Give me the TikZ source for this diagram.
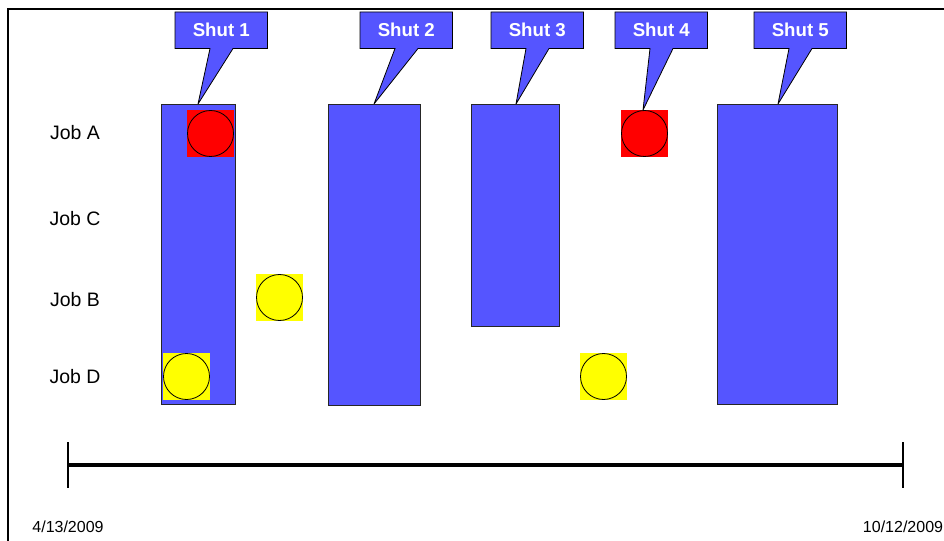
\documentclass[tikz,border=0pt]{standalone}
\usepackage{fontspec}
\setmainfont{Liberation Sans}
\usetikzlibrary{backgrounds,calc}
\definecolor{barblue}{RGB}{85,85,255}
\definecolor{dotred}{RGB}{255,0,0}
\definecolor{dotyellow}{RGB}{255,255,0}

\tikzset{
  bar/.style={fill=barblue, draw=black!85, line width=0.6pt},
  shuttag/.style={anchor=north west, minimum width=69pt, minimum height=27pt,
    inner sep=0pt, text=white, font=\bfseries\fontsize{14}{16}\selectfont},
  tagshape/.style={fill=barblue, draw=black, line width=0.6pt, line join=miter},
  joblabel/.style={font=\fontsize{14.6}{17}\selectfont, inner sep=0pt},
  datelabel/.style={font=\fontsize{12}{14}\selectfont, inner sep=0pt},
  dotsq/.style={minimum size=35.25pt, inner sep=0pt, draw=none},
  dotring/.style={draw=black, line width=0.6pt},
  frame/.style={draw=black, line width=1.2pt},
  axis/.style={line width=2.6pt},
  tick/.style={line width=0.9pt}
}

% a coloured square with a ring of the same colour on top
\newcommand\jobdot[3]{%
  \node[dotsq, fill=#2] (#1) at #3 {};
  \draw[dotring, fill=#2] (#1) circle[radius=17.25pt];
}

% callout: label box with a pointer running down to a tip coordinate
\newcommand\shutcallout[4]{%
  \node[shuttag] (#1) at #3 {#2};
  \begin{pgfonlayer}{background}
    \path[tagshape] (#1.north west) -- (#1.north east) -- (#1.south east)
      -- ([xshift=43.5pt]#1.south west) -- (#4)
      -- ([xshift=26.25pt]#1.south west) -- (#1.south west) -- cycle;
  \end{pgfonlayer}
}

\begin{document}
\begin{tikzpicture}[x=0.75pt,y=-0.75pt]
\useasboundingbox (0,0) rectangle (944,541);

% outer frame (top and left edges)
\draw[frame] (8,541) -- (8,9) -- (944,9);

% shutdown bars
\draw[bar] (161,104) rectangle (235,404);
\draw[bar] (328,104) rectangle (420,405);
\draw[bar] (471,104) rectangle (559,326);
\draw[bar] (717,104) rectangle (837,404);

% pointer tips
\coordinate (p1) at (198,104);
\coordinate (p2) at (374,104);
\coordinate (p3) at (516,104);
\coordinate (p4) at (643,110);
\coordinate (p5) at (778,104);

% job markers
\jobdot{a1}{dotred}{(210.5,133.5)}
\jobdot{a4}{dotred}{(644.5,133.5)}
\jobdot{b1}{dotyellow}{(279.5,297.5)}
\jobdot{d1}{dotyellow}{(186.5,376.5)}
\jobdot{d4}{dotyellow}{(603.5,376.5)}

% shutdown callouts
\shutcallout{s1}{Shut 1}{(175,12)}{p1}
\shutcallout{s2}{Shut 2}{(360,12)}{p2}
\shutcallout{s3}{Shut 3}{(491,12)}{p3}
\shutcallout{s4}{Shut 4}{(615,12)}{p4}
\shutcallout{s5}{Shut 5}{(754,12)}{p5}

% job row labels
\node[joblabel] (ja) at (75,133) {Job A};
\node[joblabel] (jc) at (75,219) {Job C};
\node[joblabel] (jb) at (75,300) {Job B};
\node[joblabel] (jd) at (75,377) {Job D};

% time axis
\coordinate (t0) at (68,465);
\coordinate (t1) at (903,465);
\draw[axis] (t0) -- (t1);
\draw[tick] ($(t0)+(0,-23)$) -- ($(t0)+(0,23)$);
\draw[tick] ($(t1)+(0,-23)$) -- ($(t1)+(0,23)$);
\node[datelabel] (d0) at (68,527) {4/13/2009};
\node[datelabel] (d1) at (903,527) {10/12/2009};
\end{tikzpicture}
\end{document}
